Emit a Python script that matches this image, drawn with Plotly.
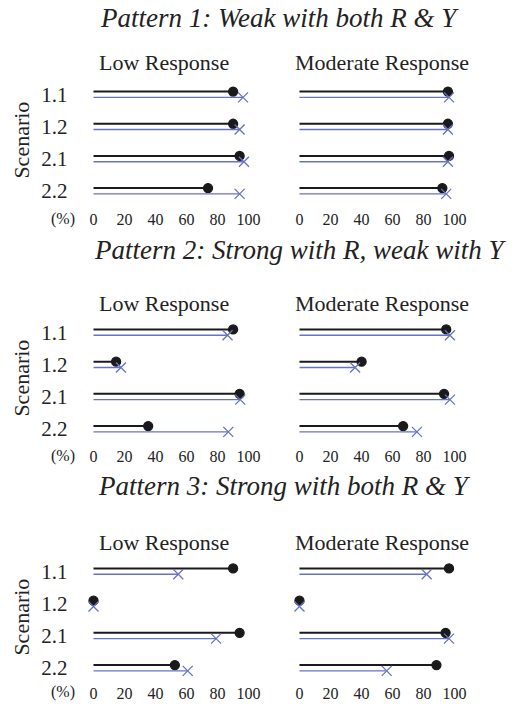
import plotly.graph_objects as go

# ---------------- data ----------------
scenarios = ["1.1", "1.2", "2.1", "2.2"]
responses = ["Low Response", "Moderate Response"]
pattern_titles = [
    "Pattern 1: Weak with both R & Y",
    "Pattern 2: Strong with R, weak with Y",
    "Pattern 3: Strong with both R & Y",
]
x_ticks = [0, 20, 40, 60, 80, 100]

# black series (dot)
p1_low_black = [90.1, 90.1, 94.3, 73.9]
p1_mod_black = [95.8, 95.8, 96.5, 92.2]
p2_low_black = [90.1, 14.6, 94.3, 35.3]
p2_mod_black = [94.7, 40.1, 93.3, 66.9]
p3_low_black = [90.1, 0.0, 94.3, 52.5]
p3_mod_black = [96.5, 0.0, 94.3, 88.4]

# blue series (cross)
p1_low_blue = [96.5, 94.3, 97.1, 94.3]
p1_mod_blue = [96.5, 95.8, 95.8, 94.7]
p2_low_blue = [86.5, 17.7, 94.7, 87.0]
p2_mod_blue = [97.1, 35.9, 97.1, 75.8]
p3_low_blue = [54.7, 0.0, 79.1, 60.8]
p3_mod_blue = [82.1, 0.0, 96.5, 56.3]

black_data = [[p1_low_black, p1_mod_black], [p2_low_black, p2_mod_black], [p3_low_black, p3_mod_black]]
blue_data = [[p1_low_blue, p1_mod_blue], [p2_low_blue, p2_mod_blue], [p3_low_blue, p3_mod_blue]]

# ---------------- layout constants (screen pixels) ----------------
W, H = 521, 708
FONT = "Times New Roman, Liberation Serif, Tinos, DejaVu Serif, serif"
BLACK = "#1a1a1a"
BLUE = "#6673c4"
OFF = 0.09  # vertical offset of the two lines around a scenario row

x_domains_px = [(91.14, 255.46), (301.14, 465.46)]
y_domains_px = [(78.4, 207.1), (316.2, 445.1), (555.2, 684.1)]
x_standoff = [1, 0, -2]
title_pos = [(284, 18), (305, 250), (289, 486)]
sub_y = [63, 303, 542]
sub_x = [166, 388]
scen_y = [140, 378, 617]
pct_y = [219, 456, 692]


def px_x(p):
    return p / W


def px_y(p):
    return 1 - p / H


fig = go.Figure()
annotations = []

for bi in range(3):
    for ci in range(2):
        idx = bi * 2 + ci + 1
        xa = "x" if idx == 1 else f"x{idx}"
        ya = "y" if idx == 1 else f"y{idx}"
        rows = list(range(len(scenarios)))
        for vals, color, sym, lw, msize, sign in [
            (black_data[bi][ci], BLACK, "circle", 2, 9, -1),
            (blue_data[bi][ci], BLUE, "x-thin-open", 1.4, 10, 1),
        ]:
            lx, ly = [], []
            for r, v in zip(rows, vals):
                lx += [0, v, None]
                ly += [r + sign * OFF, r + sign * OFF, None]
            fig.add_trace(go.Scatter(
                x=lx, y=ly, mode="lines", line=dict(color=color, width=lw),
                xaxis=xa, yaxis=ya, showlegend=False, hoverinfo="skip"))
            fig.add_trace(go.Scatter(
                x=vals, y=[r + sign * OFF for r in rows], mode="markers",
                marker=dict(symbol=sym, size=msize, color=color,
                            line=dict(color=color, width=1.3)),
                xaxis=xa, yaxis=ya, showlegend=False, cliponaxis=False))

        xd = x_domains_px[ci]
        yd = y_domains_px[bi]
        fig.layout[f"xaxis{'' if idx == 1 else idx}"] = dict(
            domain=[px_x(xd[0]), px_x(xd[1])], range=[-2, 102],
            anchor=ya, tickvals=x_ticks, ticktext=[str(t) for t in x_ticks],
            showgrid=False, zeroline=False, showline=False, ticks="",
            ticklabelstandoff=x_standoff[bi],
            tickfont=dict(family=FONT, size=16, color="#222"),
        )
        fig.layout[f"yaxis{'' if idx == 1 else idx}"] = dict(
            domain=[px_y(yd[1]), px_y(yd[0])], range=[3.5, -0.5],
            anchor=xa, tickvals=rows, ticktext=scenarios,
            showticklabels=(ci == 0), ticklabelstandoff=22,
            showgrid=False, zeroline=False, showline=False, ticks="",
            tickfont=dict(family=FONT, size=21, color="#222"),
        )
        annotations.append(dict(
            text=responses[ci], x=px_x(sub_x[ci]), y=px_y(sub_y[bi]),
            xref="paper", yref="paper", showarrow=False,
            xanchor="center", yanchor="middle",
            font=dict(family=FONT, size=22, color="#222")))

    tx, ty = title_pos[bi]
    annotations.append(dict(
        text=f"<i>{pattern_titles[bi]}</i>", x=px_x(tx), y=px_y(ty),
        xref="paper", yref="paper", showarrow=False,
        xanchor="center", yanchor="middle",
        font=dict(family=FONT, size=27, color="#222")))
    annotations.append(dict(
        text="Scenario", x=px_x(20), y=px_y(scen_y[bi]), textangle=-90,
        xref="paper", yref="paper", showarrow=False,
        xanchor="center", yanchor="middle",
        font=dict(family=FONT, size=22, color="#222")))
    annotations.append(dict(
        text="(%)", x=px_x(63), y=px_y(pct_y[bi]),
        xref="paper", yref="paper", showarrow=False,
        xanchor="center", yanchor="middle",
        font=dict(family=FONT, size=16, color="#222")))

fig.update_layout(
    width=W, height=H, margin=dict(l=0, r=0, t=0, b=0),
    paper_bgcolor="white", plot_bgcolor="white",
    annotations=annotations, showlegend=False,
)

fig.write_html("out.html", config={"displayModeBar": False},
               post_script="document.body.style.margin='0';")
